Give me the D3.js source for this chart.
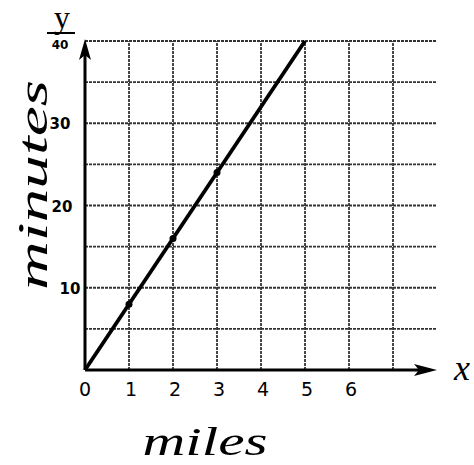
<!DOCTYPE html>
<html><head><meta charset="utf-8">
<script src="https://cdn.jsdelivr.net/npm/d3@7"></script>
<style>body{margin:0;background:#fff}svg{display:block}</style>
</head><body>
<svg id="c" width="474" height="465"></svg>
<script>
const xTicks = [0,1,2,3,4,5,6];
const yTicks = [10,20,30];
const xGrid = [1,2,3,4,5,6,7];
const yGrid = [5,10,15,20,25,30,35,40];
const lineX = [0,5];
const lineY = [0,40];
const pointX = [1,2,3];
const pointY = [8,16,24];

const svg = d3.select("#c");
const x = d3.scaleLinear().domain([0,8]).range([85,437]);
const y = d3.scaleLinear().domain([0,40]).range([370,41]);
const hand = "'Liberation Serif', serif";

// grid
svg.append("g").selectAll("line").data(xGrid).join("line")
  .attr("x1",d=>x(d)).attr("x2",d=>x(d)).attr("y1",y(0)).attr("y2",y(40))
  .attr("stroke","#333").attr("stroke-width",1.8).attr("stroke-dasharray","3,1");
svg.append("g").selectAll("line").data(yGrid).join("line")
  .attr("x1",x(0)).attr("x2",x(8)).attr("y1",d=>y(d)).attr("y2",d=>y(d))
  .attr("stroke","#333").attr("stroke-width",1.8).attr("stroke-dasharray","3,1");

// axes
svg.append("line").attr("x1",x(0)).attr("x2",x(0)).attr("y1",y(0)).attr("y2",46)
  .attr("stroke","#000").attr("stroke-width",3);
svg.append("path").attr("d",`M${x(0)},39 L${x(0)-6},60 L${x(0)},55 L${x(0)+6},60 Z`).attr("fill","#000");
svg.append("line").attr("x1",x(0)).attr("x2",430).attr("y1",y(0)).attr("y2",y(0))
  .attr("stroke","#000").attr("stroke-width",3);
svg.append("path").attr("d",`M437,${y(0)} L414,${y(0)-6} L419,${y(0)} L414,${y(0)+6} Z`).attr("fill","#000");

// line
svg.append("path").datum(lineX.map((d,i)=>[d,lineY[i]]))
  .attr("d",d3.line().x(d=>x(d[0])).y(d=>y(d[1])))
  .attr("stroke","#000").attr("stroke-width",3.8).attr("fill","none");

svg.append("g").selectAll("circle").data(pointX).join("circle")
  .attr("cx",d=>x(d)).attr("cy",(d,i)=>y(pointY[i])).attr("r",3.5).attr("fill","#000");

// tick labels
svg.append("g").selectAll("text").data(xTicks).join("text")
  .attr("x",d=>x(d)+(d===0?0:2)).attr("y",396).attr("text-anchor","middle")
  .attr("font-family","'DejaVu Sans', sans-serif").attr("font-size",19).attr("fill","#000").text(d=>d);
svg.append("g").selectAll("text").data(yTicks).join("text")
  .attr("x",(d,i)=>[70,62,60][i]).attr("y",d=>y(d)+6).attr("text-anchor","middle")
  .attr("font-family","'DejaVu Sans', sans-serif").attr("font-weight","bold").attr("font-size",15).text(d=>d);
svg.append("text").attr("x",60).attr("y",y(40)+8).attr("text-anchor","middle")
  .attr("font-family","'DejaVu Sans', sans-serif").attr("font-weight","bold").attr("font-size",12).text("40");

// axis letters
svg.append("text").attr("x",62).attr("y",28).attr("text-anchor","middle")
  .attr("font-family",hand).attr("font-size",32).text("y");
svg.append("line").attr("x1",47).attr("x2",75).attr("y1",33).attr("y2",33).attr("stroke","#000").attr("stroke-width",2);
svg.append("text").attr("x",454).attr("y",380).attr("font-family",hand).attr("font-size",36).attr("font-style","italic").text("x");

// axis titles
svg.append("text").attr("x",205).attr("y",455).attr("text-anchor","middle")
  .attr("font-family",hand).attr("font-style","italic").attr("font-size",40)
  .attr("textLength",125).attr("lengthAdjust","spacingAndGlyphs").text("miles");
svg.append("text").attr("transform","translate(47,185) rotate(-90)").attr("text-anchor","middle")
  .attr("font-family",hand).attr("font-style","italic").attr("font-size",42)
  .attr("textLength",210).attr("lengthAdjust","spacingAndGlyphs").text("minutes");
</script>
</body></html>
